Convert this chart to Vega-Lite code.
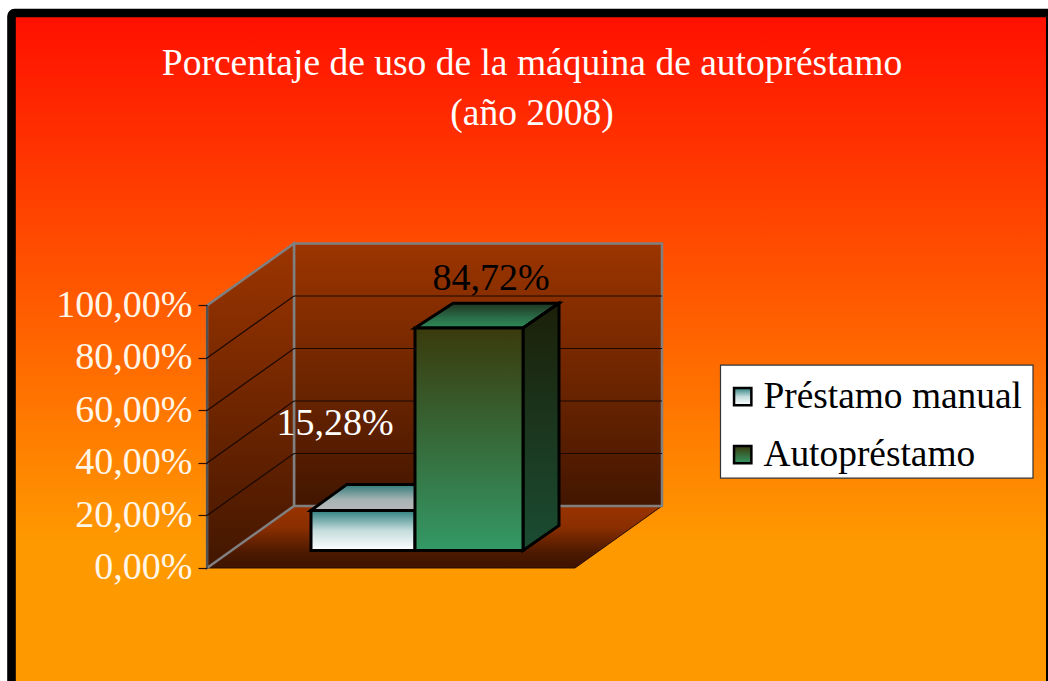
{
"$schema":"https://vega.github.io/schema/vega-lite/v6.json",
"width":1048,"height":681,"padding":0,"autosize":{"type":"none"},"background":"#ffffff",
"view":{"stroke":null},
"title":{"text":["Porcentaje de uso de la máquina de autopréstamo","(año 2008)"],"anchor":"middle","dx":8,"offset":-132,"font":"Liberation Serif","fontSize":37.5,"fontWeight":"normal","color":"#ffffff","lineHeight":50},
"datasets":{
"frame":[{"x":11.5,"x2":1050.3,"y":211.4,"y2":-46.5}],
"floor":[{"x":207,"x2":575,"y":0},{"x":294,"x2":662,"y":23.62}],
"back":[{"x":294,"x2":662,"y":23.62,"y2":123.62}],
"left":[{"x":207,"y":0,"y2":100},{"x":294,"y":23.62,"y2":123.62}],
"edge":[{"x":207,"y":0},{"x":207,"y":100}],
"grid":[{"v":20,"x":207,"y":20},{"v":20,"x":294,"y":43.62},{"v":20,"x":662,"y":43.62},{"v":40,"x":207,"y":40},{"v":40,"x":294,"y":63.62},{"v":40,"x":662,"y":63.62},{"v":60,"x":207,"y":60},{"v":60,"x":294,"y":83.62},{"v":60,"x":662,"y":83.62},{"v":80,"x":207,"y":80},{"v":80,"x":294,"y":103.62},{"v":80,"x":662,"y":103.62}],
"top1":[{"x":311,"x2":415,"y":15.28},{"x":347,"x2":451,"y":25.18}],
"top2":[{"x":415,"x2":523,"y":84.72},{"x":453,"x2":559,"y":94.22}],
"side2":[{"x":523,"y":0,"y2":84.72},{"x":559,"y":9.5,"y2":94.22}],
"bars":[{"serie":"Préstamo manual","x":311,"x2":415,"y":15.28,"y2":0},{"serie":"Autopréstamo","x":415,"x2":523,"y":84.72,"y2":0}],
"labelW":[{"label":"15,28%","x":335,"y":54.8}],
"labelB":[{"label":"84,72%","x":491,"y":110.1}],
"legendbox":[{"x":720.5,"x2":1033,"y":77.3,"y2":34.2}]
},
"encoding":{
"x":{"field":"x","type":"quantitative","axis":null,"scale":{"domain":[0,1048],"nice":false,"zero":false}},
"y":{"field":"y","type":"quantitative","scale":{"domain":[-43.05,216.38],"nice":false,"zero":false},
"axis":{"title":null,"grid":false,"domain":false,"offset":-207,"values":[0,20,40,60,80,100],"tickSize":9,"tickColor":"#2a0e00","tickWidth":1.2,"labelPadding":6,"labelFont":"Liberation Serif","labelFontSize":38,"labelColor":"#fff6e8","labelBaseline":"middle","labelExpr":"replace(format(datum.value,'.2f'),'.',',')+'%'","labelOverlap":false,"zindex":1}}
},
"layer":[
{"data":{"name":"frame"},"mark":{"type":"rect","stroke":"#000000","strokeWidth":8.6,"cornerRadius":3,"fill":{"gradient":"linear","x1":0,"y1":0,"x2":0,"y2":1,"stops":[{"offset":0,"color":"#ff0f00"},{"offset":0.78,"color":"#ff9900"},{"offset":1,"color":"#ff9900"}]}},"encoding":{"x2":{"field":"x2"},"y2":{"field":"y2"}}},
{"data":{"name":"floor"},"mark":{"type":"area","orient":"horizontal","stroke":"#2a0e00","strokeWidth":1,"fill":{"gradient":"linear","x1":0,"y1":0,"x2":0,"y2":1,"stops":[{"offset":0,"color":"#993300"},{"offset":0.35,"color":"#8a2e00"},{"offset":0.75,"color":"#4c1900"},{"offset":1,"color":"#3f1400"}]}},"encoding":{"x2":{"field":"x2"}}},
{"data":{"name":"back"},"mark":{"type":"rect","stroke":"#808080","strokeWidth":2.5,"fill":{"gradient":"linear","x1":0,"y1":0,"x2":0,"y2":1,"stops":[{"offset":0,"color":"#9c3500"},{"offset":1,"color":"#421600"}]}},"encoding":{"x2":{"field":"x2"},"y2":{"field":"y2"}}},
{"data":{"name":"left"},"mark":{"type":"area","stroke":"#808080","strokeWidth":2.5,"fill":{"gradient":"linear","x1":0,"y1":0,"x2":0,"y2":1,"stops":[{"offset":0,"color":"#9c3500"},{"offset":1,"color":"#421600"}]}},"encoding":{"y2":{"field":"y2"}}},
{"data":{"name":"edge"},"mark":{"type":"line","stroke":"#333333","strokeWidth":1.2},"encoding":{}},
{"data":{"name":"grid"},"mark":{"type":"line","stroke":"#1a0800","strokeWidth":1.2},"encoding":{"detail":{"field":"v","type":"nominal"},"order":{"field":"x","type":"quantitative"}}},
{"data":{"name":"top1"},"mark":{"type":"area","orient":"horizontal","yOffset":-17.5,"stroke":"#000000","strokeWidth":3,"fill":{"gradient":"linear","x1":0,"y1":0,"x2":0,"y2":1,"stops":[{"offset":0,"color":"#2f7a7a"},{"offset":0.6,"color":"#a8b4b4"},{"offset":1,"color":"#b8b8b8"}]}},"encoding":{"x2":{"field":"x2"}}},
{"data":{"name":"top2"},"mark":{"type":"area","orient":"horizontal","yOffset":-17.5,"stroke":"#000000","strokeWidth":3,"fill":{"gradient":"linear","x1":0,"y1":0,"x2":0,"y2":1,"stops":[{"offset":0,"color":"#1f3320"},{"offset":0.6,"color":"#2b6f49"},{"offset":1,"color":"#2e8b57"}]}},"encoding":{"x2":{"field":"x2"}}},
{"data":{"name":"side2"},"mark":{"type":"area","yOffset":-17.5,"y2Offset":-17.5,"stroke":"#000000","strokeWidth":3,"fill":{"gradient":"linear","x1":0,"y1":0,"x2":0,"y2":1,"stops":[{"offset":0,"color":"#1c1f08"},{"offset":1,"color":"#1a4d33"}]}},"encoding":{"y2":{"field":"y2"}}},
{"data":{"name":"legendbox"},"mark":{"type":"rect","fill":"#ffffff","stroke":"#333333","strokeWidth":1.2},"encoding":{"x2":{"field":"x2"},"y2":{"field":"y2"}}},
{"data":{"name":"bars"},"mark":{"type":"rect","yOffset":-17.5,"y2Offset":-17.5,"stroke":"#000000","strokeWidth":3},"encoding":{"x2":{"field":"x2"},"y2":{"field":"y2"},
"fill":{"field":"serie","type":"nominal","sort":null,"scale":{"domain":["Préstamo manual","Autopréstamo"],"range":[
{"expr":"{gradient:'linear',x1:0,y1:0,x2:0,y2:1,stops:[{offset:0,color:'#2f8080'},{offset:0.5,color:'#c4dcdc'},{offset:1,color:'#ffffff'}]}"},
{"expr":"{gradient:'linear',x1:0,y1:0,x2:0,y2:1,stops:[{offset:0,color:'#3a3a0c'},{offset:1,color:'#339966'}]}"}
]},"legend":{"title":null,"orient":"none","legendX":724,"legendY":378,"padding":0,"symbolType":"square","symbolSize":300,"symbolStrokeColor":"#000000","symbolStrokeWidth":2.5,"labelFont":"Liberation Serif","labelFontSize":37.4,"labelColor":"#000000","labelOffset":2,"rowPadding":19,"labelLimit":320,"zindex":1}}}},
{"data":{"name":"labelW"},"mark":{"type":"text","font":"Liberation Serif","fontSize":38,"fill":"#ffffff","align":"center","baseline":"middle"},"encoding":{"text":{"field":"label"}}},
{"data":{"name":"labelB"},"mark":{"type":"text","font":"Liberation Serif","fontSize":38,"fill":"#000000","align":"center","baseline":"middle"},"encoding":{"text":{"field":"label"}}}
]
}
